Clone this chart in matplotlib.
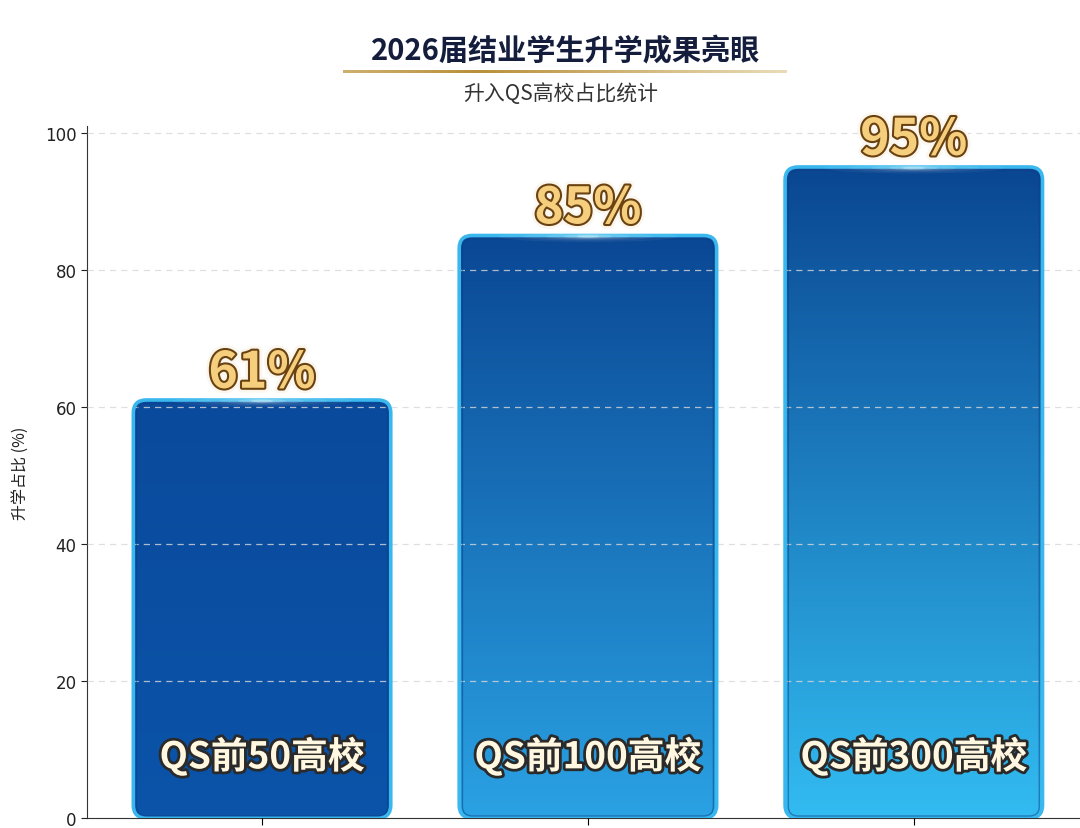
"""
2026届结业学生升学成果 - 升入QS高校占比
"""

import numpy as np
import matplotlib
matplotlib.use("Agg")
import matplotlib.pyplot as plt
from matplotlib.patches import FancyBboxPatch, Ellipse
from matplotlib.colors import to_rgb
import matplotlib.patheffects as pe

plt.rcParams["font.family"] = ["Noto Sans CJK SC", "DejaVu Sans"]

categories = ["QS前50高校", "QS前100高校", "QS前300高校"]
values = [61, 85, 95]
value_labels = ["61%", "85%", "95%"]
yticks = [0, 20, 40, 60, 80, 100]

# top / bottom colours of each bar gradient
bar_top = ["#0a4a9c", "#0a4794", "#0a4692"]
bar_bottom = ["#0b54a9", "#2aa2e3", "#32bcf1"]

fig = plt.figure(figsize=(10.8, 8.29), dpi=100)
ax = fig.add_axes([0.0806, 0.012, 0.9194, 0.835])

x = np.arange(len(categories))
width = 0.79
ax.set_xlim(-0.537, 2.51)
ax.set_ylim(0, 101)

# plain bars first (invisible, used for geometry)
bars = ax.bar(x, values, width=width, color="none", zorder=1)

for i, b in enumerate(bars):
    x0, w, h = b.get_x(), b.get_width(), b.get_height()
    box = FancyBboxPatch((x0, 0), w, h,
                         boxstyle="round,pad=0,rounding_size=0.04",
                         mutation_aspect=47, facecolor="none",
                         edgecolor="none", zorder=2)
    ax.add_patch(box)
    c_top, c_bot = np.array(to_rgb(bar_top[i])), np.array(to_rgb(bar_bottom[i]))
    t = np.linspace(0, 1, 256)[:, None]
    grad = c_bot * (1 - t) + c_top * t
    img = ax.imshow(grad[:, None, :].repeat(2, axis=1), extent=[x0, x0 + w, 0, h],
                    origin="lower", aspect="auto", zorder=2)
    img.set_clip_path(box)
    # cyan border
    edge = FancyBboxPatch((x0, 0), w, h,
                          boxstyle="round,pad=0,rounding_size=0.04",
                          mutation_aspect=47, facecolor="none",
                          edgecolor="#3ab8ee", linewidth=2.6, zorder=4)
    ax.add_patch(edge)
    inner = FancyBboxPatch((x0 + 0.01, 0.3), w - 0.02, h - 0.8,
                           boxstyle="round,pad=0,rounding_size=0.03",
                           mutation_aspect=47, facecolor="none",
                           edgecolor="#0a3f85", linewidth=1.0, alpha=0.5, zorder=4)
    ax.add_patch(inner)
    # soft glow at the top centre
    for ew, eh, a in [(0.55, 1.6, 0.06), (0.4, 1.2, 0.08), (0.26, 0.9, 0.12),
                      (0.15, 0.6, 0.2), (0.07, 0.4, 0.35)]:
        ax.add_patch(Ellipse((x0 + w / 2, h - 0.15), ew, eh, facecolor="#e8fbff",
                             edgecolor="none", alpha=a, zorder=5))

# value labels above bars
for i, v in enumerate(values):
    ax.text(x[i], v + 3.9, value_labels[i], ha="center", va="center",
            fontsize=36, fontweight="bold", color="#f6cf7e", zorder=6,
            path_effects=[pe.Stroke(linewidth=7, foreground="#fbf7ee"),
                          pe.Stroke(linewidth=3.0, foreground="#6a4212"),
                          pe.Normal()])

# category labels inside bars
for i, c in enumerate(categories):
    ax.text(x[i], 9, c, ha="center", va="center", fontsize=26.5,
            fontweight="bold", color="#fff7df", zorder=6,
            path_effects=[pe.withSimplePatchShadow(offset=(1.5, -1.5), shadow_rgbFace="#111111", alpha=0.5),
                          pe.Stroke(linewidth=4, foreground="#2b2a2a"),
                          pe.Normal()])

ax.set_yticks(yticks)
ax.set_yticklabels([str(v) for v in yticks], family="DejaVu Sans")
ax.set_xticks(x)
ax.set_xticklabels([])
ax.tick_params(axis="y", labelsize=12, colors="#222222", length=4)
ax.tick_params(axis="x", length=5, direction="out")
ax.yaxis.grid(True, linestyle=(0, (5, 4)), color="#d8d8d8", linewidth=0.9,
              alpha=0.8, zorder=5)
ax.set_axisbelow(False)
for side in ["top", "right"]:
    ax.spines[side].set_visible(False)
ax.spines["left"].set_color("#333333")
ax.spines["bottom"].set_color("#333333")
ax.set_ylabel("升学占比 (%)", fontsize=11.5, color="#222222", labelpad=12)

fig.text(0.524, 0.938, "2026届结业学生升学成果亮眼", ha="center", va="center",
         fontsize=21, fontweight="bold", color="#141d3c")
fig.text(0.519, 0.887, "升入QS高校占比统计", ha="center", va="center",
         fontsize=15, color="#333333")

# gold rule under the title
lax = fig.add_axes([0.318, 0.911, 0.411, 0.0036])
lax.axis("off")
gold = np.array(to_rgb("#b8903a"))
light = np.array(to_rgb("#eadcb8"))
s = np.linspace(0, 1, 300)
mix = np.clip(1 - np.abs(s - 0.3) / 0.7, 0, 1)[:, None]
line_img = light * (1 - mix) + gold * mix
lax.imshow(line_img[None, :, :], aspect="auto", extent=[0, 1, 0, 1])

fig.savefig("out.png", dpi=100)
